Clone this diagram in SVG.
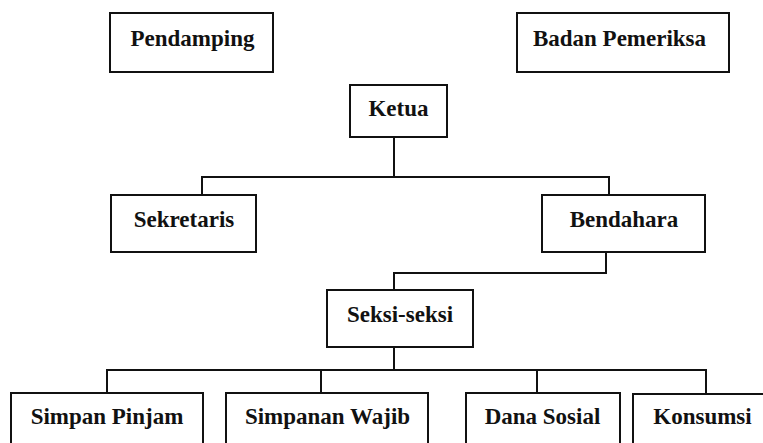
<svg xmlns="http://www.w3.org/2000/svg" width="763" height="443" viewBox="0 0 763 443">
<style>
.box{fill:#fff;stroke:#111;stroke-width:2}
.lbl{font-family:"Liberation Serif","Times New Roman",serif;font-weight:bold;font-size:23px;fill:#111;text-anchor:middle}
.conn{fill:none;stroke:#111;stroke-width:2}
</style>
<rect width="763" height="443" fill="#fff"/>
<g id="connectors">
<path class="conn" d="M394,137 V177 M202,195 V177 H609 V195"/>
<path class="conn" d="M606,252 V273 H394 V290"/>
<path class="conn" d="M394,347 V370 M107,393 V370 H706 V394 M321,370 V393 M537,370 V393"/>
</g>
<g id="pendamping"><rect class="box" x="110" y="13" width="163" height="59"/><text class="lbl" x="192.5" y="46">Pendamping</text></g>
<g id="badan-pemeriksa"><rect class="box" x="517" y="13" width="212" height="59"/><text class="lbl" x="619.5" y="46">Badan Pemeriksa</text></g>
<g id="ketua"><rect class="box" x="350" y="85" width="97" height="52"/><text class="lbl" x="398.5" y="116">Ketua</text></g>
<g id="sekretaris"><rect class="box" x="111" y="195" width="145" height="57"/><text class="lbl" x="184" y="227">Sekretaris</text></g>
<g id="bendahara"><rect class="box" x="542" y="195" width="163" height="57"/><text class="lbl" x="624" y="227">Bendahara</text></g>
<g id="seksi-seksi"><rect class="box" x="327" y="290" width="146" height="57"/><text class="lbl" x="400" y="322">Seksi-seksi</text></g>
<g id="simpan-pinjam"><rect class="box" x="11" y="393" width="192" height="60"/><text class="lbl" x="107" y="424">Simpan Pinjam</text></g>
<g id="simpanan-wajib"><rect class="box" x="226" y="393" width="202" height="60"/><text class="lbl" x="327.5" y="424">Simpanan Wajib</text></g>
<g id="dana-sosial"><rect class="box" x="466" y="393" width="154" height="60"/><text class="lbl" x="542.5" y="424">Dana Sosial</text></g>
<g id="konsumsi"><rect class="box" x="633" y="394" width="140" height="60"/><text class="lbl" x="702.5" y="424">Konsumsi</text></g>
</svg>
